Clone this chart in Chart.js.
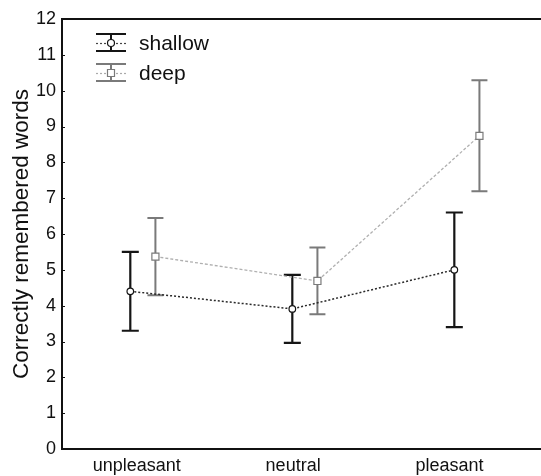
<!DOCTYPE html>
<html>
<head>
<meta charset="utf-8">
<script src="https://cdn.jsdelivr.net/npm/chart.js@4/dist/chart.umd.min.js"></script>
<style>
  html, body { margin: 0; padding: 0; background: #fff; }
  #wrap { width: 541px; height: 476px; }
</style>
</head>
<body>
<div id="wrap"><canvas id="chart"></canvas></div>
<script>
'use strict';

// datos
const categories = ['unpleasant', 'neutral', 'pleasant'];
const shallowMeans = [4.40, 3.91, 5.00];
const shallowErr = [1.10, 0.95, 1.60];
const deepMeans = [5.37, 4.69, 8.74];
const deepErr = [1.08, 0.93, 1.55];
const yTicks = [0, 1, 2, 3, 4, 5, 6, 7, 8, 9, 10, 11, 12];

const FONT = '"Liberation Sans", Arial, Helvetica, sans-serif';
const SHALLOW_SHIFT = -0.04;
const DEEP_SHIFT = 0.115;
const LABEL_STEP = 0.965; // las etiquetas no caen justo bajo los puntos

const toPoints = (means, shift) => means.map((m, i) => ({ x: i + shift, y: m }));

// barras de error + ejes + leyenda
const extrasPlugin = {
    id: 'extras',
    beforeDatasetsDraw(chart) {
        const ctx = chart.ctx;
        const xs = chart.scales.x, ys = chart.scales.y;
        const sets = [
            { means: shallowMeans, err: shallowErr, shift: SHALLOW_SHIFT, color: '#151515', width: 2.2, cap: 8.5 },
            { means: deepMeans, err: deepErr, shift: DEEP_SHIFT, color: '#7a7a7a', width: 2, cap: 8 }
        ];
        ctx.save();
        sets.forEach(s => {
            ctx.strokeStyle = s.color;
            ctx.lineWidth = s.width;
            s.means.forEach((m, i) => {
                const px = xs.getPixelForValue(i + s.shift);
                const top = ys.getPixelForValue(m + s.err[i]);
                const bot = ys.getPixelForValue(m - s.err[i]);
                ctx.beginPath();
                ctx.moveTo(px, top); ctx.lineTo(px, bot);
                ctx.moveTo(px - s.cap, top); ctx.lineTo(px + s.cap, top);
                ctx.moveTo(px - s.cap, bot); ctx.lineTo(px + s.cap, bot);
                ctx.stroke();
            });
        });
        ctx.restore();
    },
    afterDraw(chart) {
        const ctx = chart.ctx;
        const area = chart.chartArea;
        const ys = chart.scales.y;
        ctx.save();
        // marco
        ctx.strokeStyle = '#111';
        ctx.lineWidth = 2;
        ctx.beginPath();
        ctx.moveTo(chart.width, area.top);
        ctx.lineTo(area.left, area.top);
        ctx.lineTo(area.left, area.bottom);
        ctx.lineTo(chart.width, area.bottom);
        ctx.stroke();
        // ticks hacia dentro
        ctx.lineWidth = 1;
        yTicks.forEach(v => {
            const py = Math.round(ys.getPixelForValue(v)) + 0.5;
            ctx.beginPath();
            ctx.moveTo(area.left, py);
            ctx.lineTo(area.left + 3, py);
            ctx.stroke();
        });

        // leyenda
        const items = [
            { label: 'shallow', color: '#151515', line: '#444', marker: 'circle', y: 43 },
            { label: 'deep', color: '#7a7a7a', line: '#aaa', marker: 'rect', y: 73 }
        ];
        items.forEach(it => {
            const cx = 111;
            ctx.strokeStyle = it.color;
            ctx.lineWidth = 2;
            ctx.beginPath();
            ctx.moveTo(96, it.y - 9); ctx.lineTo(126, it.y - 9);
            ctx.moveTo(96, it.y + 8); ctx.lineTo(126, it.y + 8);
            ctx.moveTo(cx, it.y - 9); ctx.lineTo(cx, it.y + 8);
            ctx.stroke();
            ctx.strokeStyle = it.line;
            ctx.lineWidth = 1.2;
            ctx.setLineDash([2, 2]);
            ctx.beginPath();
            ctx.moveTo(96, it.y + 0.5); ctx.lineTo(126, it.y + 0.5);
            ctx.stroke();
            ctx.setLineDash([]);
            ctx.fillStyle = '#fff';
            ctx.strokeStyle = it.color;
            ctx.lineWidth = 1.2;
            ctx.beginPath();
            if (it.marker === 'circle') {
                ctx.arc(cx, it.y, 3.5, 0, Math.PI * 2);
            } else {
                ctx.rect(cx - 3.5, it.y - 3.5, 7, 7);
            }
            ctx.fill();
            ctx.stroke();
            ctx.fillStyle = '#111';
            ctx.font = '21px ' + FONT;
            ctx.textAlign = 'left';
            ctx.textBaseline = 'middle';
            ctx.fillText(it.label, 139, it.y + 1);
        });
        ctx.restore();
    }
};

new Chart(document.getElementById('chart'), {
    type: 'line',
    data: {
        datasets: [
            {
                label: 'shallow',
                data: toPoints(shallowMeans, SHALLOW_SHIFT),
                borderColor: '#2a2a2a',
                borderWidth: 1.5,
                borderDash: [2, 2],
                pointStyle: 'circle',
                pointRadius: 3.3,
                pointBackgroundColor: '#fff',
                pointBorderColor: '#151515',
                pointBorderWidth: 1.2,
                tension: 0
            },
            {
                label: 'deep',
                data: toPoints(deepMeans, DEEP_SHIFT),
                borderColor: '#b0b0b0',
                borderWidth: 1.3,
                borderDash: [3, 2],
                pointStyle: 'rect',
                pointRadius: 5,
                pointBackgroundColor: '#fff',
                pointBorderColor: '#7a7a7a',
                pointBorderWidth: 1.2,
                tension: 0
            }
        ]
    },
    options: {
        responsive: true,
        maintainAspectRatio: false,
        animation: false,
        layout: { autoPadding: false, padding: { top: 19, right: 0, left: 0, bottom: 0 } },
        plugins: { legend: { display: false }, tooltip: { enabled: false } },
        scales: {
            x: {
                type: 'linear',
                min: -0.4616,
                max: 2.495,
                afterBuildTicks: scale => { scale.ticks = categories.map((c, i) => ({ value: i * LABEL_STEP })); },
                afterFit: scale => {
                    scale.height = 27;
                    scale.paddingLeft = 0;
                    scale.paddingRight = 0;
                },
                grid: { display: false, drawTicks: false },
                border: { display: false },
                ticks: {
                    autoSkip: false,
                    maxRotation: 0,
                    padding: 6,
                    color: '#111',
                    font: { family: FONT, size: 18 },
                    callback: (value, index) => categories[index] ?? ''
                }
            },
            y: {
                min: 0,
                max: 12,
                afterBuildTicks: scale => { scale.ticks = yTicks.map(v => ({ value: v })); },
                afterFit: scale => {
                    scale.width = 62;
                    scale.paddingTop = 0;
                    scale.paddingBottom = 0;
                },
                grid: { display: false, drawTicks: false },
                border: { display: false },
                ticks: {
                    padding: 6,
                    color: '#111',
                    font: { family: FONT, size: 18 }
                },
                title: {
                    display: true,
                    text: 'Correctly remembered words',
                    color: '#111',
                    font: { family: FONT, size: 22.5 },
                    padding: { top: 8, bottom: 0 }
                }
            }
        }
    },
    plugins: [extrasPlugin]
});
</script>
</body>
</html>
